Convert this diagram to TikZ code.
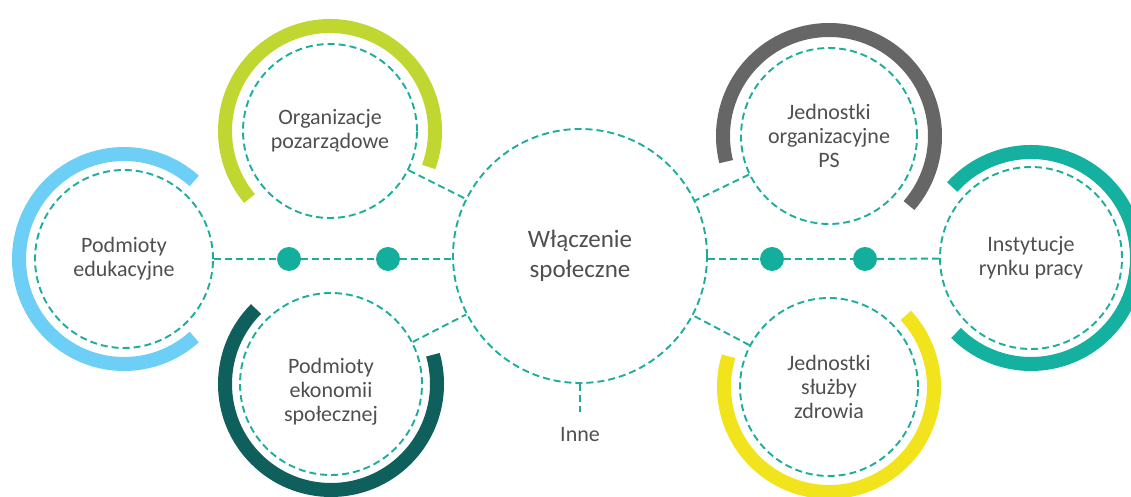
\documentclass[tikz,border=0pt]{standalone}
\usepackage{fontspec}
\setmainfont{Carlito}
\definecolor{dashc}{HTML}{1DAE9B}
\definecolor{dotc}{HTML}{14AE9C}
\definecolor{txt}{HTML}{4F4F4F}
\definecolor{cblue}{HTML}{6DCFF6}
\definecolor{clime}{HTML}{BFD730}
\definecolor{cdark}{HTML}{0F5F5C}
\definecolor{cgrey}{HTML}{666666}
\definecolor{cyellow}{HTML}{F2E41C}
\definecolor{cteal}{HTML}{14B1A1}
\begin{document}
\begin{tikzpicture}[x=1pt,y=1pt,
  conn/.style={draw=dashc, line width=1.9pt, dash pattern=on 7pt off 4pt},
  hub/.style={circle, conn, minimum size=#1, inner sep=0pt, align=center, text=txt,
    font=\fontsize{22}{24}\selectfont},
  dotn/.style={circle, fill=dotc, minimum size=24pt, inner sep=0pt},
  band/.style={line width=14pt}]
\useasboundingbox (0,0) rectangle (1131,497);
\clip (0,0) rectangle (1131,497);
% nodes
\node[hub=254pt, font=\fontsize{25}{30}\selectfont] (center) at (580,241) {Włączenie\\społeczne};
\node[hub=178pt] (pe) at (124,238) {Podmioty\\edukacyjne};
\node[hub=174pt] (op) at (330,366) {Organizacje\\pozarządowe};
\node[hub=182pt] (pes) at (331,113) {};
\node[text=txt, font=\fontsize{22}{24}\selectfont, align=center] (pest) at (331,105) {Podmioty\\ekonomii\\społecznej};
\node[hub=176pt] (jo) at (829,361) {Jednostki\\organizacyjne\\PS};
\node[hub=178pt] (jsz) at (829,110) {Jednostki\\służby\\zdrowia};
\node[hub=182pt] (irp) at (1031,239) {Instytucje\\rynku pracy};
\node[dotn] (d1) at (289,238) {};
\node[dotn] (d2) at (388,238) {};
\node[dotn] (d3) at (772,238) {};
\node[dotn] (d4) at (865,238) {};
\coordinate (ie) at (580,85);
\node[text=txt, font=\fontsize{22}{24}\selectfont] (inne) at (580,62) {Inne};
% arcs
\draw[band, cblue]  (pe.center)  ++(48:105pt)  arc[start angle=48,  end angle=312, radius=105pt];
\draw[band, clime]  (op.center)  ++(-20:105pt) arc[start angle=-20, end angle=220, radius=105pt];
\draw[band, cdark]  (pes.center) ++(135:106pt) arc[start angle=135, end angle=376, radius=106pt];
\draw[band, cgrey]  (jo.center)  ++(-41:106pt) arc[start angle=-41, end angle=194, radius=106pt];
\draw[band, cyellow](jsz.center) ++(163:105pt) arc[start angle=163, end angle=403, radius=105pt];
\draw[band, cteal]  (irp.center) ++(-135:106pt) arc[start angle=-135, end angle=138, radius=106pt];
% connectors
\draw[conn] (pe) -- (d1);
\draw[conn] (d1) -- (d2);
\draw[conn] (d2) -- (center.west |- d2);
\draw[conn] (center.east |- d3) -- (d3);
\draw[conn] (d3) -- (d4);
\draw[conn] (d4) -- (irp);
\draw[conn] (op) -- (center);
\draw[conn] (pes) -- (center);
\draw[conn] (jo) -- (center);
\draw[conn] (jsz) -- (center);
\draw[conn] (center.south) -- (ie);
\end{tikzpicture}
\end{document}
